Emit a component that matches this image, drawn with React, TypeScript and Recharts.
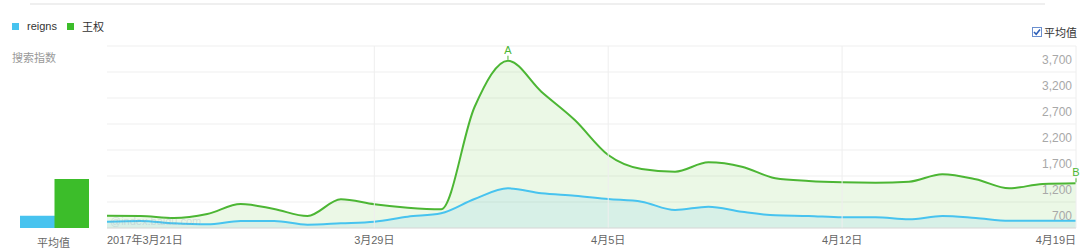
import { AreaChart, Area, XAxis, YAxis, CartesianGrid, ReferenceLine, LabelList, BarChart, Bar, Cell } from "recharts"

const dates = [
  "3/21", "3/22", "3/23", "3/24", "3/25", "3/26", "3/27", "3/28", "3/29", "3/30",
  "3/31", "4/1", "4/2", "4/3", "4/4", "4/5", "4/6", "4/7", "4/8", "4/9",
  "4/10", "4/11", "4/12", "4/13", "4/14", "4/15", "4/16", "4/17", "4/18", "4/19",
]

const reigns = [
  821, 835, 790, 771, 835, 835, 763, 790, 821, 917,
  983, 1258, 1463, 1367, 1321, 1258, 1206, 1046, 1110, 1013,
  944, 931, 906, 906, 867, 931, 892, 840, 840, 840,
]

const wangquan = [
  937, 931, 892, 969, 1162, 1065, 931, 1252, 1156, 1090,
  1060, 3027, 3917, 3321, 2777, 2104, 1835, 1783, 1963, 1879,
  1656, 1604, 1579, 1571, 1590, 1733, 1637, 1463, 1546, 1560,
]

const tickDays = [0, 8, 15, 22, 29]
const tickLabels = ["2017年3月21日", "3月29日", "4月5日", "4月12日", "4月19日"]
const yTicks = [700, 1200, 1700, 2200, 2700, 3200, 3700, 4200]
const yLabels = [700, 1200, 1700, 2200, 2700, 3200, 3700]
const markers = [
  { day: 12, text: "A" },
  { day: 29, text: "B" },
]

const BLUE = "#47c3ef"
const GREEN = "#4cb634"
const GREEN_BAR = "#3cbd2a"
const FONT = "'Liberation Sans', 'Noto Sans CJK SC', sans-serif"

const rows = dates.map((date, i) => ({ day: i, date, reigns: reigns[i], wangquan: wangquan[i] }))

const avg = (arr: number[]) => arr.reduce((s, v) => s + v, 0) / arr.length
const averages = [
  { name: "reigns", value: avg(reigns), color: BLUE },
  { name: "王权", value: avg(wangquan), color: GREEN_BAR },
]

function XTick(props: any) {
  const { x, y, payload } = props
  const idx = tickDays.indexOf(payload.value)
  const anchor = idx === 0 ? "start" : idx === tickDays.length - 1 ? "end" : "middle"
  return (
    <text x={x} y={y + 16} textAnchor={anchor} fill="#666" fontSize={11} fontFamily={FONT}>
      {tickLabels[idx]}
    </text>
  )
}

// value label sits just above its gridline, at the right edge of the plot
function YValueLabel(props: any) {
  const { viewBox, value } = props
  if (!viewBox) return null
  return (
    <text x={viewBox.x + viewBox.width - 4} y={viewBox.y - 8} textAnchor="end" fill="#a8a8a8" fontSize={12} fontFamily={FONT}>
      {Number(value).toLocaleString("en-US")}
    </text>
  )
}

function MarkerLabel(props: any) {
  const { x, y, index } = props
  const m = markers.find((mk) => mk.day === index)
  if (!m) return null
  return (
    <g>
      <line x1={x} x2={x} y1={y - 5} y2={y - 1} stroke={GREEN} strokeWidth={1} />
      <text x={x} y={y - 7} textAnchor="middle" fill={GREEN} fontSize={11} fontFamily={FONT}>
        {m.text}
      </text>
    </g>
  )
}

export default function App() {
  return (
    <div style={{ position: "absolute", left: 0, top: 0, width: 1080, height: 251, background: "#fff", fontFamily: FONT, overflow: "hidden" }}>
      <div style={{ position: "absolute", left: 30, top: 3, width: 1015, height: 2, background: "#efefef" }} />

      {/* legend */}
      <div style={{ position: "absolute", left: 12, top: 18, display: "flex", alignItems: "center", fontSize: 11, color: "#333" }}>
        <span style={{ width: 7, height: 7, background: BLUE, display: "inline-block", marginRight: 8 }} />
        <span style={{ marginRight: 10 }}>reigns</span>
        <span style={{ width: 7, height: 7, background: GREEN_BAR, display: "inline-block", marginRight: 8 }} />
        <span>王权</span>
      </div>
      <div style={{ position: "absolute", left: 12, top: 49, fontSize: 11, color: "#999" }}>搜索指数</div>

      {/* average toggle */}
      <div style={{ position: "absolute", left: 1032, top: 24, display: "flex", alignItems: "center", fontSize: 11, color: "#333" }}>
        <svg width={10} height={10} style={{ marginRight: 2 }}>
          <rect x={0.5} y={0.5} width={9} height={9} fill="#fff" stroke="#6a8fcf" />
          <path d="M2 5 L4.2 7.2 L8 2.6" fill="none" stroke="#2d5fb8" strokeWidth={1.6} />
        </svg>
        <span>平均值</span>
      </div>

      {/* mini average bars */}
      <div style={{ position: "absolute", left: 20, top: 179 }}>
        <BarChart width={69} height={49} data={averages} margin={{ top: 0, right: 0, bottom: 0, left: 0 }} barCategoryGap={0}>
          <XAxis dataKey="name" hide />
          <YAxis hide domain={[740, "dataMax"]} />
          <Bar dataKey="value" isAnimationActive={false}>
            {averages.map((a) => (
              <Cell key={a.name} fill={a.color} />
            ))}
          </Bar>
        </BarChart>
      </div>
      <div style={{ position: "absolute", left: 37, top: 234, fontSize: 11, color: "#666" }}>平均值</div>

      <div style={{ position: "absolute", left: 0, top: 0 }}>
        <AreaChart width={1080} height={251} data={rows} margin={{ top: 46, right: 4, bottom: 3, left: 107 }}>
          <CartesianGrid vertical={false} stroke="#efefef" />
          <XAxis
            dataKey="day"
            type="number"
            domain={[0, 29]}
            ticks={tickDays}
            interval={0}
            height={20}
            tickLine={false}
            tickSize={0}
            tickMargin={0}
            axisLine={{ stroke: "#dcdcdc" }}
            tick={<XTick />}
          />
          <YAxis
            orientation="right"
            mirror
            width={0}
            domain={[700, 4200]}
            ticks={yTicks}
            interval={0}
            axisLine={false}
            tickLine={false}
            tick={() => <g />}
          />
          {tickDays.slice(1).map((d) => (
            <ReferenceLine key={d} x={d} stroke="#eeeeee" />
          ))}
          <Area
            type="monotone"
            dataKey="wangquan"
            stroke={GREEN}
            strokeWidth={2}
            fill="#7ccf5a"
            fillOpacity={0.15}
            dot={false}
            activeDot={false}
            isAnimationActive={false}
          >
            <LabelList dataKey="wangquan" content={<MarkerLabel />} />
          </Area>
          <Area
            type="monotone"
            dataKey="reigns"
            stroke={BLUE}
            strokeWidth={2}
            fill="#46c0f0"
            fillOpacity={0.12}
            dot={false}
            activeDot={false}
            isAnimationActive={false}
          />
          {yLabels.map((v) => (
            <ReferenceLine key={v} y={v} stroke="none" ifOverflow="visible" label={<YValueLabel value={v} />} />
          ))}
        </AreaChart>
      </div>

      <div style={{ position: "absolute", left: 110, top: 215, fontSize: 11, color: "rgba(140,160,185,0.3)", pointerEvents: "none" }}>
        @index.baidu.com
      </div>
    </div>
  )
}
